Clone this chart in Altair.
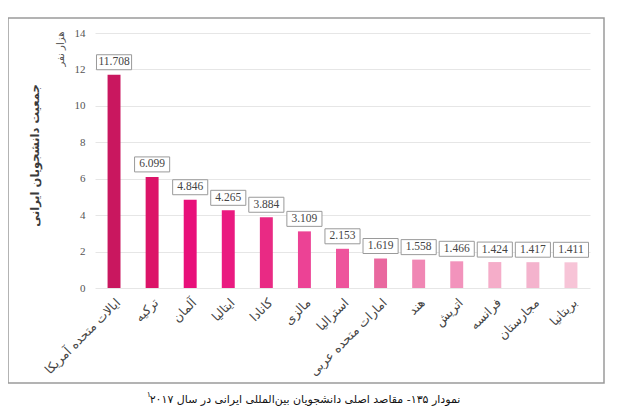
import altair as alt
import pandas as pd

# Top destinations of Iranian international students, 2017 (thousand people)
countries = [
    "ایالات متحده آمریکا", "ترکیه", "آلمان", "ایتالیا", "کانادا", "مالزی",
    "استرالیا", "امارات متحده عربی", "هند", "اتریش", "فرانسه", "مجارستان",
    "بریتانیا",
]
students = [11.708, 6.099, 4.846, 4.265, 3.884, 3.109, 2.153, 1.619, 1.558,
            1.466, 1.424, 1.417, 1.411]
bar_colors = [
    "#c9175f", "#dc1468", "#e8107a", "#ea1a80", "#e92a84", "#ec4295",
    "#ee549c", "#e9689f", "#f087b4", "#f293bc", "#f5adc9", "#f4b3cd",
    "#f7c4d7",
]
y_ticks = [0, 2, 4, 6, 8, 10, 12, 14]

caption = "نمودار ۱۳۵- مقاصد اصلی دانشجویان بین‌المللی ایرانی در سال ۲۰۱۷"
footnote = "۱"
unit = "هزار نفر"
y_title = "جمعیت دانشجویان ایرانی"

df = pd.DataFrame({"country": countries, "students": students})
one = pd.DataFrame({"k": [0]})

x = alt.X("country:N", sort=countries, title=None,
          scale=alt.Scale(paddingInner=0.66, paddingOuter=0.33),
          axis=alt.Axis(labelAngle=-45, labelFont="DejaVu Sans",
                        labelFontSize=12.5, labelColor="#444", ticks=False,
                        domain=False, grid=False, labelPadding=8))
y = alt.Y("students:Q", title=y_title, scale=alt.Scale(domain=[0, 14]),
          axis=alt.Axis(values=y_ticks, labelFont="Liberation Serif",
                        labelFontSize=11, labelColor="#555", ticks=False,
                        domain=False, gridColor="#e6e6e6", labelPadding=10,
                        titleFont="DejaVu Sans", titleFontSize=11.5,
                        titleFontWeight="bold", titleColor="#3a3a3a",
                        titleAngle=270, titleX=-60, titleY=122,
                        titleAlign="center", titleBaseline="middle"))

base = alt.Chart(df).encode(x=x, y=y)

bars = base.mark_bar().encode(
    color=alt.Color("country:N", scale=alt.Scale(domain=countries, range=bar_colors),
                    legend=None)
)

# white label boxes sitting just above each bar
boxes = base.mark_point(
    shape="M-1.17,-0.5H1.17V0.5H-1.17Z", size=900, filled=True, fill="white",
    stroke="#9a9a9a", strokeWidth=1, opacity=1, yOffset=-12.5
)

values = base.mark_text(
    yOffset=-12.5, baseline="middle", font="Liberation Serif", fontSize=11.5,
    color="#444"
).encode(text=alt.Text("students:Q", format=".3f"))

frame = alt.Chart(one).mark_rect(filled=False, stroke="#9a9a9a", strokeWidth=1.5).encode(
    x=alt.value(-87), x2=alt.value(509), y=alt.value(-15), y2=alt.value(350)
)

unit_text = alt.Chart(one).mark_text(
    angle=270, font="DejaVu Sans", fontSize=10, color="#555", baseline="middle"
).encode(x=alt.value(-34), y=alt.value(16), text=alt.value(unit))

caption_text = alt.Chart(one).mark_text(
    font="DejaVu Sans", fontSize=11, color="#111", baseline="middle"
).encode(x=alt.value(210), y=alt.value(367), text=alt.value(caption))

footnote_text = alt.Chart(one).mark_text(
    font="DejaVu Sans", fontSize=8, color="#111", baseline="middle", align="right"
).encode(x=alt.value(56), y=alt.value(362), text=alt.value(footnote))

chart = alt.layer(frame, bars, boxes, values, unit_text, caption_text,
                  footnote_text).properties(
    width=495, height=255,
    autosize=alt.AutoSizeParams(type="none"),
    padding={"left": 87, "top": 25, "right": 26, "bottom": 120},
).configure_view(strokeWidth=0)

chart.save("out.html", embed_options={"renderer": "svg", "actions": False})
